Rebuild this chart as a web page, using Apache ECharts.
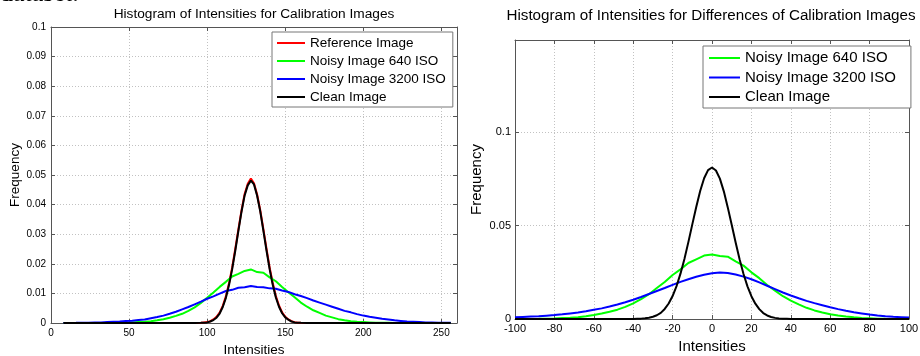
<!DOCTYPE html>
<html>
<head>
<meta charset="utf-8">
<script src="https://cdn.jsdelivr.net/npm/echarts@6/dist/echarts.min.js"></script>
<style>
  html, body { margin: 0; padding: 0; background: #fff; }
  #chart { width: 920px; height: 356px; }
</style>
</head>
<body>
<div id="chart"></div>
<script>
// left panel: histogram of intensities (0..255)
const calibX = [8, 12, 16, 20, 24, 28, 32, 36, 40, 44, 48, 52, 56, 60, 64, 68, 72, 76, 80, 84,
  88, 92, 96, 100, 104, 108, 112, 116, 120, 124, 128, 132, 136, 140, 144, 148, 152, 156, 160, 164,
  168, 172, 176, 180, 184, 188, 192, 196, 200, 204, 208, 212, 216, 220, 224, 228, 232, 236, 240, 244,
  248, 252, 256];
const calibNoisy640 = [0, 0, 0, 0, 0, 0, 0, 0, 0.00005, 0.0001, 0.0001, 0.0002, 0.0003, 0.0004, 0.0006, 0.0009, 0.0013, 0.0018, 0.0024, 0.0031,
  0.0041, 0.0053, 0.0068, 0.0085, 0.0103, 0.0122, 0.0139, 0.0157, 0.0166, 0.0176, 0.0181, 0.0172, 0.0170, 0.0154, 0.0141, 0.0122, 0.0104, 0.0087, 0.0069, 0.0055,
  0.0043, 0.0034, 0.0025, 0.0019, 0.0013, 0.0009, 0.0006, 0.0004, 0.0003, 0.0002, 0.0001, 0.0001, 0.00005, 0, 0, 0, 0, 0, 0, 0,
  0, 0, 0];
const calibNoisy3200 = [0, 0.00003, 0.00005, 0.0001, 0.0001, 0.0002, 0.0002, 0.0003, 0.0004, 0.0005, 0.0007, 0.0008, 0.0010, 0.0012, 0.0016, 0.0020, 0.0025, 0.0031, 0.0038, 0.0046,
  0.0054, 0.0063, 0.0072, 0.0082, 0.0090, 0.0099, 0.0108, 0.0112, 0.0119, 0.0121, 0.0125, 0.0122, 0.0121, 0.0117, 0.0116, 0.0110, 0.0105, 0.0097, 0.0091, 0.0084,
  0.0076, 0.0069, 0.0062, 0.0055, 0.0048, 0.0041, 0.0036, 0.0030, 0.0025, 0.0021, 0.0018, 0.0014, 0.0012, 0.0009, 0.0007, 0.0005, 0.0004, 0.0003, 0.0002, 0.0002,
  0.0001, 0.0001, 0.00005];

// the two sharp peaks are sampled more finely
const peakX = [8, 92, 96, 98, 100, 102, 104, 106, 108, 110, 112, 114, 116, 118, 120, 122, 124, 126, 128,
  130, 132, 134, 136, 138, 140, 142, 144, 146, 148, 150, 152, 154, 156, 158, 160, 164, 256];
const calibReference = [0, 0, 0.0001, 0.0002, 0.0003, 0.0006, 0.0012, 0.0021, 0.0035, 0.0058, 0.0090, 0.0134, 0.0187, 0.0250, 0.0316, 0.0380, 0.0436, 0.0470, 0.0488,
  0.0472, 0.0434, 0.0381, 0.0317, 0.0251, 0.0188, 0.0135, 0.0091, 0.0059, 0.0036, 0.0021, 0.0012, 0.0006, 0.0003, 0.0001, 0.00005, 0, 0];
const calibClean = [0, 0, 0.00005, 0.0001, 0.0002, 0.0005, 0.0010, 0.0018, 0.0032, 0.0054, 0.0085, 0.0128, 0.0181, 0.0244, 0.0311, 0.0376, 0.0431, 0.0465, 0.0481,
  0.0468, 0.0430, 0.0377, 0.0312, 0.0245, 0.0182, 0.0129, 0.0086, 0.0055, 0.0033, 0.0019, 0.0011, 0.0005, 0.0002, 0.0001, 0.00005, 0, 0];

// right panel: histogram of differences (-100..100)
const diffX = [-100, -96, -92, -88, -84, -80, -76, -72, -68, -64, -60, -56, -52, -48, -44, -40, -36, -32, -28, -24,
  -20, -16, -12, -8, -4, 0, 4, 8, 12, 16, 20, 24, 28, 32, 36, 40, 44, 48, 52, 56,
  60, 64, 68, 72, 76, 80, 84, 88, 92, 96, 100];
const diffNoisy640 = [0, 0.00002, 0.00005, 0.0001, 0.0002, 0.0003, 0.0005, 0.0007, 0.0010, 0.0015, 0.0021, 0.0029, 0.0039, 0.0050, 0.0065, 0.0084, 0.0106, 0.0133, 0.0166, 0.0198,
  0.0236, 0.0266, 0.0300, 0.0320, 0.0340, 0.0346, 0.0338, 0.0334, 0.0309, 0.0286, 0.0250, 0.0219, 0.0182, 0.0152, 0.0122, 0.0098, 0.0078, 0.0060, 0.0046, 0.0035,
  0.0026, 0.0019, 0.0013, 0.0009, 0.0006, 0.0004, 0.0002, 0.0001, 0.00005, 0.00002, 0];
const diffNoisy3200 = [0.0009, 0.0011, 0.0013, 0.0015, 0.0018, 0.0021, 0.0025, 0.0030, 0.0035, 0.0041, 0.0049, 0.0057, 0.0067, 0.0078, 0.0090, 0.0103, 0.0118, 0.0134, 0.0150, 0.0166,
  0.0183, 0.0199, 0.0213, 0.0226, 0.0237, 0.0245, 0.0249, 0.0247, 0.0238, 0.0227, 0.0213, 0.0196, 0.0178, 0.0160, 0.0142, 0.0126, 0.0111, 0.0097, 0.0085, 0.0074,
  0.0063, 0.0053, 0.0044, 0.0036, 0.0030, 0.0024, 0.0019, 0.0015, 0.0012, 0.0010, 0.0008];

const diffPeakX = [-100, -40, -38, -36, -34, -32, -30, -28, -26, -24, -22, -20, -18, -16, -14, -12, -10, -8, -6, -4, -2, 0,
  2, 4, 6, 8, 10, 12, 14, 16, 18, 20, 22, 24, 26, 28, 30, 32, 34, 36, 38, 40, 100];
const diffClean = [0, 0, 0.0001, 0.0002, 0.0004, 0.0007, 0.0012, 0.0020, 0.0033, 0.0054, 0.0083, 0.0123, 0.0176, 0.0243, 0.0322, 0.0412, 0.0507, 0.0600, 0.0686, 0.0754, 0.0798, 0.0812,
  0.0796, 0.0752, 0.0684, 0.0598, 0.0505, 0.0410, 0.0320, 0.0241, 0.0175, 0.0122, 0.0082, 0.0053, 0.0032, 0.0019, 0.0011, 0.0006, 0.0003, 0.0002, 0.0001, 0, 0];

const FONT = "'Liberation Sans', Arial, sans-serif";
const AXIS_COLOR = "#555";

function pairs(xs, ys) {
  return xs.map((x, i) => [x, ys[i]]);
}

function line(name, color, xs, ys, idx) {
  return {
    name,
    type: "line",
    xAxisIndex: idx,
    yAxisIndex: idx,
    showSymbol: false,
    silent: true,
    color,
    lineStyle: { color, width: 2 },
    data: pairs(xs, ys),
  };
}

// bottom/left axes carry labels and the dotted grid; top/right ones only close the box
function mainAxis(gridIndex, pos, o) {
  return {
    type: "value",
    gridIndex,
    position: pos,
    min: o.min,
    max: o.max,
    interval: o.interval,
    name: o.name,
    nameLocation: "middle",
    nameGap: o.nameGap,
    nameTextStyle: { fontFamily: FONT, fontSize: o.nameSize, color: "#000" },
    axisLine: { show: true, onZero: false, lineStyle: { color: AXIS_COLOR, width: 1 } },
    axisTick: { show: true, inside: true, length: 4, lineStyle: { color: AXIS_COLOR } },
    axisLabel: {
      fontFamily: FONT, fontSize: o.labelSize, color: "#000", margin: o.margin,
      showMaxLabel: o.showMax,
    },
    splitLine: { show: true, lineStyle: { color: "#c2c2c2", type: [1, 2], width: 1 } },
  };
}

function boxAxis(gridIndex, pos, o) {
  return {
    type: "value",
    gridIndex,
    position: pos,
    min: o.min,
    max: o.max,
    interval: o.interval,
    axisLine: { show: true, onZero: false, lineStyle: { color: AXIS_COLOR, width: 1 } },
    axisTick: { show: true, inside: true, length: 4, lineStyle: { color: AXIS_COLOR } },
    axisLabel: { show: false },
    splitLine: { show: false },
  };
}

const leftX = { min: 0, max: 260, interval: 50, name: "Intensities", nameGap: 17, nameSize: 13.5, labelSize: 10, margin: 5, showMax: false };
const leftY = { min: 0, max: 0.1, interval: 0.01, name: "Frequency", nameGap: 28, nameSize: 13.5, labelSize: 10, margin: 5, showMax: true };
const rightX = { min: -100, max: 100, interval: 20, name: "Intensities", nameGap: 18, nameSize: 15, labelSize: 11, margin: 4, showMax: true };
const rightY = { min: 0, max: 0.1495, interval: 0.05, name: "Frequency", nameGap: 31, nameSize: 15, labelSize: 11, margin: 4, showMax: false };

const option = {
  animation: false,
  backgroundColor: "#fff",
  grid: [
    { left: 51, top: 27, width: 406, height: 296, outerBoundsMode: "none" },
    { left: 515, top: 40, width: 394, height: 279, outerBoundsMode: "none" },
  ],
  xAxis: [
    mainAxis(0, "bottom", leftX), mainAxis(1, "bottom", rightX),
    boxAxis(0, "top", leftX), boxAxis(1, "top", rightX),
  ],
  yAxis: [
    mainAxis(0, "left", leftY), mainAxis(1, "left", rightY),
    boxAxis(0, "right", leftY), boxAxis(1, "right", rightY),
  ],
  legend: [
    {
      data: ["Reference Image", "Noisy Image 640 ISO", "Noisy Image 3200 ISO", "Clean Image"],
      orient: "vertical", left: 272, top: 32,
      padding: [4, 7, 3, 5], itemGap: 4,
      icon: "rect", itemWidth: 28, itemHeight: 2,
      borderColor: "#777", borderWidth: 1, backgroundColor: "#fff",
      textStyle: { fontFamily: FONT, fontSize: 13.5, lineHeight: 14, color: "#000" },
      selectedMode: false,
    },
    {
      data: ["Noisy Image 640 ISO", "Noisy Image 3200 ISO", "Clean Image"],
      orient: "vertical", left: 703, top: 46,
      padding: [4, 15, 3, 6], itemGap: 3.5,
      icon: "rect", itemWidth: 31, itemHeight: 2,
      borderColor: "#777", borderWidth: 1, backgroundColor: "#fff",
      textStyle: { fontFamily: FONT, fontSize: 15, lineHeight: 16, color: "#000" },
      selectedMode: false,
    },
  ],
  graphic: [
    { type: "text", left: 0, top: -19, style: { text: "dataset.", font: "26px 'Liberation Serif', serif", fill: "#000" } },
    { type: "text", x: 254, y: 14, style: { text: "Histogram of Intensities for Calibration Images", font: "13.7px " + FONT, fill: "#000", align: "center", verticalAlign: "middle" } },
    { type: "text", x: 711, y: 15.5, style: { text: "Histogram of Intensities for Differences of Calibration Images", font: "15.2px " + FONT, fill: "#000", align: "center", verticalAlign: "middle" } },
  ],
  series: [
    line("Reference Image", "#ff0000", peakX, calibReference, 0),
    line("Noisy Image 640 ISO", "#00ff00", calibX, calibNoisy640, 0),
    line("Noisy Image 3200 ISO", "#0000ff", calibX, calibNoisy3200, 0),
    line("Clean Image", "#000000", peakX, calibClean, 0),
    line("Noisy Image 640 ISO", "#00ff00", diffX, diffNoisy640, 1),
    line("Noisy Image 3200 ISO", "#0000ff", diffX, diffNoisy3200, 1),
    line("Clean Image", "#000000", diffPeakX, diffClean, 1),
  ],
};

const chart = echarts.init(document.getElementById("chart"));
chart.setOption(option);
</script>
</body>
</html>
